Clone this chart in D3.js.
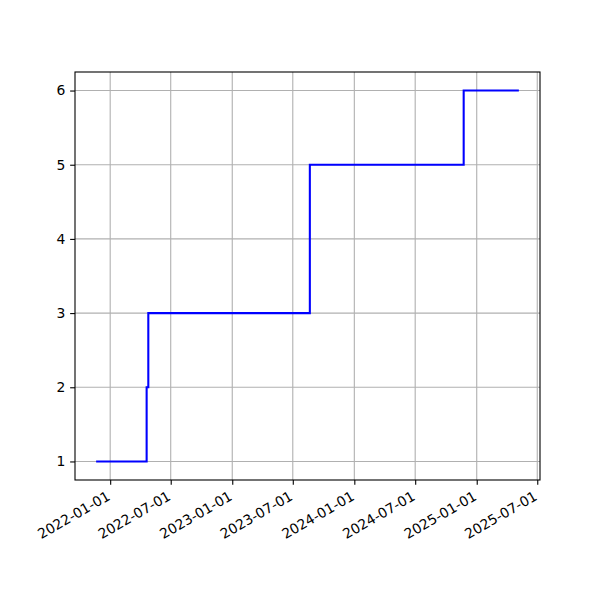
<!DOCTYPE html>
<html><head><meta charset="utf-8">
<script src="https://cdn.jsdelivr.net/npm/d3@7"></script>
<style>body{margin:0;background:#fff}svg{display:block}</style>
</head><body><div id="chart"></div>
<script>
const dates = ["2021-11-20","2022-04-20","2022-04-25","2023-08-21","2024-11-23","2025-05-07"];
const values = [1,2,3,5,6,6];
const xTickLabels = ["2022-01-01","2022-07-01","2023-01-01","2023-07-01","2024-01-01","2024-07-01","2025-01-01","2025-07-01"];
const yTickValues = [1,2,3,4,5,6];

const W=600,H=600, L=75, R=540, T=72, B=480;
const parse = d3.utcParse("%Y-%m-%d");
const data = dates.map((d,i)=>({d:parse(d), v:values[i]}));
const svg = d3.select("#chart").append("svg").attr("width",W).attr("height",H);
const font = "DejaVu Sans, sans-serif", fs = 13.9;

const d0 = data[0].d.getTime(), d1 = data[data.length-1].d.getTime(), span = d1-d0;
const x = d3.scaleUtc().domain([new Date(d0-0.05*span), new Date(d1+0.05*span)]).range([L,R]);
const vmin = d3.min(values), vmax = d3.max(values), vs = vmax-vmin;
const y = d3.scaleLinear().domain([vmin-0.05*vs, vmax+0.05*vs]).range([B,T]);
const xt = xTickLabels.map(parse);

// grid
const g = svg.append("g");
g.selectAll("line.gx").data(xt).join("line")
  .attr("x1",d=>x(d)).attr("x2",d=>x(d)).attr("y1",T).attr("y2",B)
  .attr("stroke","#b0b0b0").attr("stroke-width",1.1);
g.selectAll("line.gy").data(yTickValues).join("line")
  .attr("x1",L).attr("x2",R).attr("y1",d=>y(d)).attr("y2",d=>y(d))
  .attr("stroke","#b0b0b0").attr("stroke-width",1.1);

// line
const line = d3.line().x(d=>x(d.d)).y(d=>y(d.v)).curve(d3.curveStepAfter);
svg.append("path").datum(data).attr("d",line).attr("fill","none")
  .attr("stroke","#0000ff").attr("stroke-width",2.08).attr("stroke-linejoin","miter");

// spines
svg.append("rect").attr("x",L).attr("y",T).attr("width",R-L).attr("height",B-T)
  .attr("fill","none").attr("stroke","#000").attr("stroke-width",1.1);

// x axis
const xa = svg.append("g").attr("transform",`translate(0,${B})`)
  .call(d3.axisBottom(x).tickValues(xt).tickFormat(d3.utcFormat("%Y-%m-%d")).tickSize(4.86).tickPadding(0));
xa.select(".domain").remove();
xa.selectAll(".tick line").attr("stroke","#000").attr("stroke-width",1.1);
xa.selectAll(".tick text")
  .attr("font-family",font).attr("font-size",fs).attr("fill","#000")
  .attr("text-anchor","end").attr("dy",null).attr("y",0)
  .attr("transform","translate(0.5,19) rotate(-30)");

// y axis
const ya = svg.append("g").attr("transform",`translate(${L},0)`)
  .call(d3.axisLeft(y).tickValues(yTickValues).tickFormat(d3.format("d")).tickSize(4.86).tickPadding(4.86));
ya.select(".domain").remove();
ya.selectAll(".tick line").attr("stroke","#000").attr("stroke-width",1.1);
ya.selectAll(".tick text").attr("font-family",font).attr("font-size",fs).attr("fill","#000");
</script></body></html>
